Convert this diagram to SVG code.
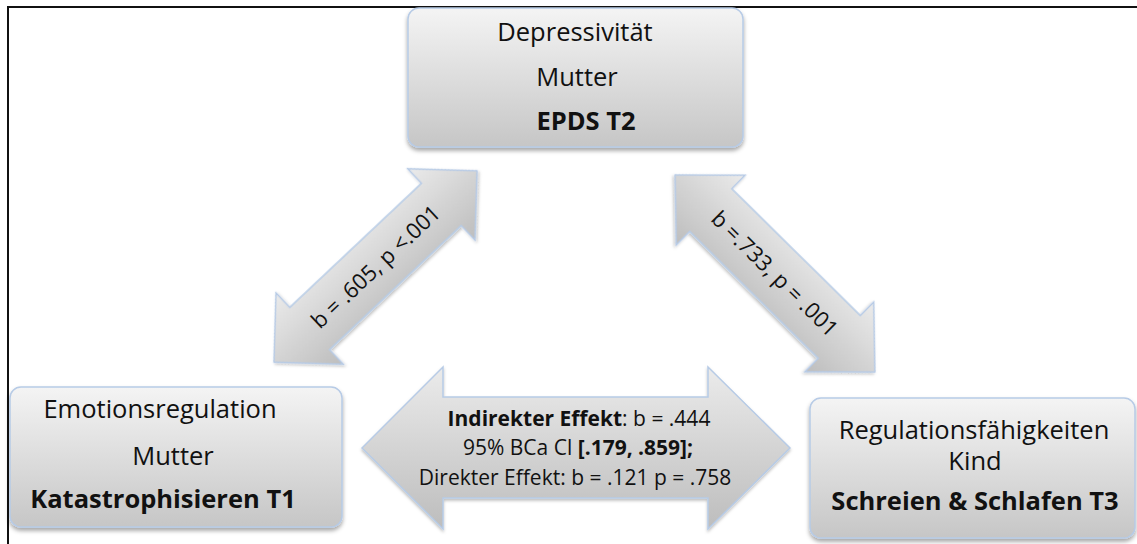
<svg xmlns="http://www.w3.org/2000/svg" width="1137" height="544" viewBox="0 0 1137 544">
  <defs>
    <linearGradient id="boxFill" x1="0" y1="0" x2="0" y2="1">
      <stop offset="0" stop-color="#f4f4f4"/>
      <stop offset="1" stop-color="#c6c6c6"/>
    </linearGradient>
    <linearGradient id="arrowFill" x1="0" y1="0" x2="0" y2="1">
      <stop offset="0" stop-color="#ebebeb"/>
      <stop offset="1" stop-color="#bdbdbd"/>
    </linearGradient>
    <filter id="shadow" x="-10%" y="-10%" width="120%" height="130%">
      <feDropShadow dx="0" dy="3" stdDeviation="2" flood-color="#000" flood-opacity="0.35"/>
    </filter>
    <filter id="softShadow" x="-10%" y="-10%" width="120%" height="130%">
      <feDropShadow dx="0" dy="2" stdDeviation="1.5" flood-color="#000" flood-opacity="0.25"/>
    </filter>
  </defs>
  <style>
    .box { fill: url(#boxFill); stroke: #b7cbe6; stroke-width: 1.5; filter: url(#shadow); }
    .arrow { fill: url(#arrowFill); stroke: #b7cbe6; stroke-width: 1.5; filter: url(#softShadow); }
    .t { font-family: "Open Sans", "Noto Sans", sans-serif; font-size: 25.5px; fill: #111; text-anchor: middle; }
    .b { font-weight: bold; }
    .small { font-size: 21px; }
    .diag { font-size: 22px; }
  </style>

  <rect width="1137" height="544" fill="#fff"/>
  <!-- frame lines -->
  <path d="M8,544 V7 H1137" fill="none" stroke="#111" stroke-width="2"/>

  <!-- connectors -->
  <g id="connectors">
    <!-- left diagonal double arrow -->
    <g transform="translate(375.5,266.5) rotate(-43.3)">
      <polygon class="arrow" points="-139.5,0 -90.5,-49 -90.5,-29 90.5,-29 90.5,-49 139.5,0 90.5,49 90.5,29 -90.5,29 -90.5,49"/>
      <text class="t diag" x="0" y="8">b = .605, p &lt;.001</text>
    </g>
    <!-- right diagonal double arrow -->
    <g transform="translate(775,273.5) rotate(44.6)">
      <polygon class="arrow" points="-140.3,0 -90.3,-49 -90.3,-30 90.3,-30 90.3,-49 140.3,0 90.3,49 90.3,30 -90.3,30 -90.3,49"/>
      <text class="t diag" x="0" y="8">b =.733, p = .001</text>
    </g>
    <!-- horizontal double arrow -->
    <polygon class="arrow" points="362,448 443,367 443,397 708,397 708,367 790,448 708,529 708,498 443,498 443,529"/>
    <text class="t small" x="579" y="426"><tspan class="b">Indirekter Effekt</tspan>: b = .444</text>
    <text class="t small" x="578" y="455">95% BCa Cl <tspan class="b">[.179, .859];</tspan></text>
    <text class="t small" x="575" y="485">Direkter Effekt: b = .121 p = .758</text>
  </g>

  <!-- top node -->
  <g id="node-epds">
    <rect class="box" x="408" y="8" width="335" height="139" rx="11"/>
    <text class="t" x="575" y="41">Depressivität</text>
    <text class="t" x="577" y="86">Mutter</text>
    <text class="t b" x="586" y="130">EPDS T2</text>
  </g>

  <!-- left node -->
  <g id="node-katastrophisieren">
    <rect class="box" x="10" y="387" width="332" height="140" rx="11"/>
    <text class="t" x="160" y="418">Emotionsregulation</text>
    <text class="t" x="173" y="465">Mutter</text>
    <text class="t b" x="163" y="508">Katastrophisieren T1</text>
  </g>

  <!-- right node -->
  <g id="node-schreien">
    <rect class="box" x="810" y="398" width="325" height="140" rx="11"/>
    <text class="t" x="974" y="439">Regulationsfähigkeiten</text>
    <text class="t" x="975" y="470">Kind</text>
    <text class="t b" x="975" y="510">Schreien &amp; Schlafen T3</text>
  </g>
</svg>
